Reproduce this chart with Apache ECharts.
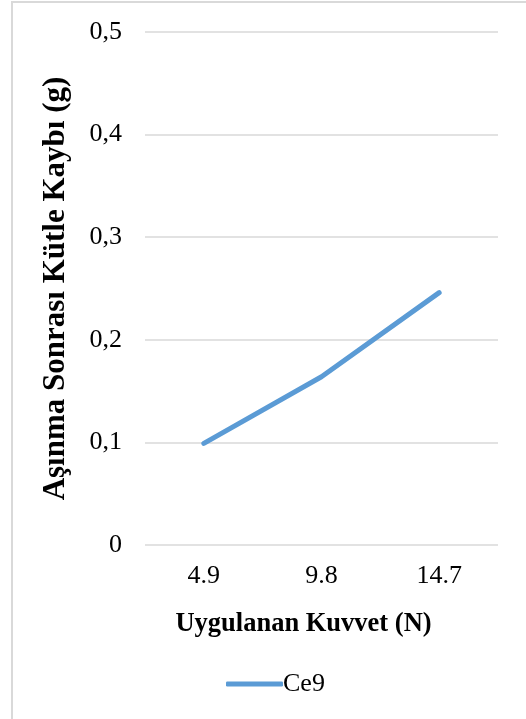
<!DOCTYPE html>
<html>
<head>
<meta charset="utf-8">
<script src="https://cdn.jsdelivr.net/npm/echarts@6/dist/echarts.min.js"></script>
<style>
  html, body { margin: 0; padding: 0; background: #fff; }
  #chart { width: 526px; height: 719px; }
</style>
</head>
<body>
<div id="chart"></div>
<script>
// Applied force categories (N)
const forces = ['4.9', '9.8', '14.7'];
// Mass loss after wear (g) for sample Ce9
const ce9Loss = [0.099, 0.164, 0.246];
const seriesName = 'Ce9';
const yTitle = 'Aşınma Sonrası Kütle Kaybı (g)';
const xTitle = 'Uygulanan Kuvvet (N)';

const FONT = 'Liberation Serif, Times New Roman, serif';
const chart = echarts.init(document.getElementById('chart'), null, { renderer: 'canvas' });

chart.setOption({
  animation: false,
  backgroundColor: '#ffffff',
  graphic: [{
    type: 'rect',
    shape: { x: 12, y: 2, width: 540, height: 740 },
    style: { fill: 'none', stroke: '#d9d9d9', lineWidth: 2 },
    silent: true
  }],
  grid: { left: 145, right: 28, top: 32, bottom: 174 },
  legend: {
    data: [seriesName],
    left: 221,
    top: 666,
    icon: 'roundRect',
    itemWidth: 57,
    itemHeight: 5,
    itemGap: 0,
    textStyle: { fontFamily: FONT, fontSize: 26, color: '#000', padding: [0, 0, 0, -5] }
  },
  xAxis: {
    type: 'category',
    data: forces,
    boundaryGap: true,
    axisLine: { show: false },
    axisTick: { show: false },
    axisLabel: { fontFamily: FONT, fontSize: 26, color: '#000', margin: 18 },
    name: xTitle,
    nameLocation: 'middle',
    nameGap: 66,
    nameTextStyle: {
      fontFamily: FONT, fontSize: 26.5, fontWeight: 'bold', color: '#000',
      padding: [0, 36, 0, 0]
    }
  },
  yAxis: {
    type: 'value',
    min: 0,
    max: 0.5,
    interval: 0.1,
    axisLine: { show: false },
    axisTick: { show: false },
    splitLine: { lineStyle: { color: '#d9d9d9', width: 1.5 } },
    axisLabel: {
      fontFamily: FONT, fontSize: 26, color: '#000', margin: 23,
      formatter: v => (Math.round(v * 10) / 10).toString().replace('.', ',')
    },
    name: yTitle,
    nameLocation: 'middle',
    nameGap: 74,
    nameTextStyle: { fontFamily: FONT, fontSize: 31, fontWeight: 'bold', color: '#000' }
  },
  series: [{
    name: seriesName,
    type: 'line',
    data: ce9Loss,
    symbol: 'none',
    lineStyle: { color: '#5b9bd5', width: 5, cap: 'round' },
    itemStyle: { color: '#5b9bd5' }
  }]
});
</script>
</body>
</html>
